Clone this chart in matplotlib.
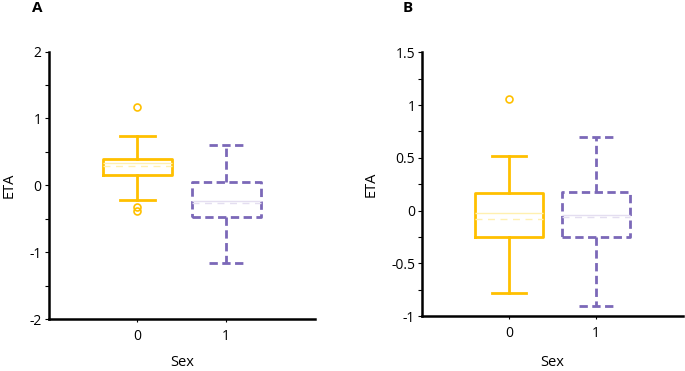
import numpy as np
import matplotlib.pyplot as plt
from matplotlib.ticker import MultipleLocator, FuncFormatter

plt.rcParams['font.family'] = ['Open Sans', 'DejaVu Sans']

# box statistics: (q1, median, mean, q3, whisker low, whisker high)
groups = [0, 1]
stats_a = [
    dict(q1=0.15, med=0.33, mean=0.29, q3=0.40, whislo=-0.22, whishi=0.73, fliers=[1.17, -0.33, -0.38]),
    dict(q1=-0.48, med=-0.23, mean=-0.26, q3=0.05, whislo=-1.16, whishi=0.61, fliers=[]),
]
stats_b = [
    dict(q1=-0.25, med=-0.02, mean=-0.08, q3=0.17, whislo=-0.78, whishi=0.52, fliers=[1.06]),
    dict(q1=-0.25, med=-0.04, mean=-0.06, q3=0.18, whislo=-0.90, whishi=0.70, fliers=[]),
]
yellow = '#FFC000'
purple = '#7B68B8'
colors = [yellow, purple]
faint = ['#FFF0B0', '#E4DEF0']
styles = ['-', (0, (3, 1.6))]


def fmt(v, pos):
    return ('%g' % v).replace('\u2212', '-')


def draw_panel(ax, stats, ylim, major, minor, letter, letter_x, xpad):
    for i, s in enumerate(stats):
        c = colors[i]
        ls = styles[i]
        st = dict(s)
        st['label'] = str(groups[i])
        ax.bxp([st], positions=[groups[i]], widths=0.78, showmeans=True, meanline=True,
               boxprops=dict(color=c, lw=2, ls=ls),
               whiskerprops=dict(color=c, lw=2, ls=ls),
               capprops=dict(color=c, lw=2, ls=ls),
               capwidths=0.39,
               medianprops=dict(color=faint[i], lw=1, ls='-'),
               meanprops=dict(color=faint[i], lw=1, ls=(0, (5, 4))),
               flierprops=dict(marker='o', markerfacecolor='none', markeredgecolor=c,
                               markersize=5, markeredgewidth=1.2))
    ax.set_xlim(-1, 2)
    ax.set_ylim(*ylim)
    ax.set_xticks(groups)
    ax.set_xticklabels([str(g) for g in groups])
    ax.yaxis.set_major_locator(MultipleLocator(major))
    ax.yaxis.set_minor_locator(MultipleLocator(minor))
    ax.yaxis.set_major_formatter(FuncFormatter(fmt))
    for sp in ['top', 'right']:
        ax.spines[sp].set_visible(False)
    for sp in ['left', 'bottom']:
        ax.spines[sp].set_linewidth(1.8)
    ax.tick_params(axis='y', which='both', length=3, width=0.8, labelsize=10, pad=2)
    ax.tick_params(axis='x', length=2, width=0.8, labelsize=10, pad=5)
    ax.set_ylabel('ETA', fontsize=10.5, labelpad=9)
    ax.set_xlabel('Sex', fontsize=10.5, labelpad=xpad)
    ax.figure.text(letter_x, 0.978, letter, fontsize=11, fontweight='bold', va='center')


fig = plt.figure(figsize=(6.85, 3.71), dpi=100)
ax1 = fig.add_axes([0.071, 0.140, 0.389, 0.721])
ax2 = fig.add_axes([0.6165, 0.148, 0.380, 0.711])

draw_panel(ax1, stats_a, (-2, 2), 1, 0.5, 'A', 0.046, 8)
draw_panel(ax2, stats_b, (-1, 1.5), 0.5, 0.25, 'B', 0.588, 10)

fig.savefig('out.png', dpi=100)
